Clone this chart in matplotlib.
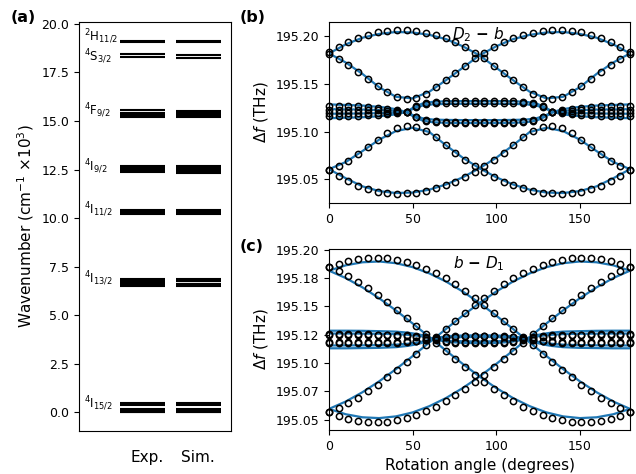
import matplotlib
matplotlib.use('Agg')
import matplotlib.pyplot as plt
from matplotlib.ticker import FormatStrFormatter, MultipleLocator

# ---------------- panel (a): crystal-field levels (x10^3 cm^-1)
exp_levels = [0.0, 0.04, 0.08, 0.10, 0.13, 0.16, 0.40, 0.47,
              6.51, 6.55, 6.60, 6.73, 6.78, 6.83, 6.87,
              10.21, 10.24, 10.27, 10.33, 10.38, 10.44,
              12.36, 12.42, 12.47, 12.60, 12.70,
              15.19, 15.24, 15.36, 15.42, 15.55,
              18.28, 18.43,
              19.09, 19.12]
sim_levels = [0.0, 0.03, 0.07, 0.10, 0.14, 0.18, 0.38, 0.46,
              6.50, 6.55, 6.59, 6.62, 6.74, 6.80, 6.86,
              10.20, 10.24, 10.28, 10.34, 10.39, 10.44,
              12.35, 12.41, 12.48, 12.58, 12.68,
              15.20, 15.26, 15.33, 15.42, 15.53,
              18.27, 18.42,
              19.09, 19.12]
manifold_names = [r'$^2$H$_{11/2}$', r'$^4$S$_{3/2}$', r'$^4$F$_{9/2}$', r'$^4$I$_{9/2}$',
                  r'$^4$I$_{11/2}$', r'$^4$I$_{13/2}$', r'$^4$I$_{15/2}$']
manifold_label_y = [19.35, 18.3, 15.55, 12.62, 10.42, 6.85, 0.42]
column_names = ['Exp.', 'Sim.']

# ---------------- panels (b), (c): transition frequency vs rotation angle (THz)
line_angles = [0, 10, 20, 30, 40, 50, 60, 70, 80, 90, 100, 110, 120, 130, 140, 150, 160, 170, 180]
exp_angles = [0.0, 5.81, 11.61, 17.42, 23.23, 29.03, 34.84, 40.65, 46.45, 52.26, 58.06, 63.87,
              69.68, 75.48, 81.29, 87.1, 92.9, 98.71, 104.52, 110.32, 116.13, 121.94, 127.74,
              133.55, 139.35, 145.16, 150.97, 156.77, 162.58, 168.39, 174.19, 180.0]
band_angles_b = [0, 10, 20, 30, 36, 41, 46, 51, 56, 62, 70, 80, 90, 100, 110, 118, 124, 129,
                 134, 139, 144, 150, 160, 170, 180]
band_angles_c = [0, 10, 20, 30, 40, 47, 52, 57, 62, 67, 72, 80, 90, 100, 108, 113, 118, 123,
                 128, 133, 140, 150, 160, 170, 180]

b_ticks = [195.05, 195.10, 195.15, 195.20]
c_ticks = [195.05, 195.075, 195.10, 195.125, 195.15, 195.175, 195.20]
c_tick_labels = ['195.05', '195.07', '195.10', '195.12', '195.15', '195.18', '195.20']

# (b) D2 - b : simulation
b_sim_outer = [
    [195.182, 195.1915, 195.1985, 195.2025, 195.2045, 195.204, 195.2015, 195.197, 195.1895, 195.180,
     195.167, 195.154, 195.1418, 195.1348, 195.1365, 195.1465, 195.1605, 195.1725, 195.182],
    [195.182, 195.1725, 195.1605, 195.1465, 195.1365, 195.1348, 195.1418, 195.154, 195.167, 195.180,
     195.1895, 195.197, 195.2015, 195.204, 195.2045, 195.2025, 195.1985, 195.1915, 195.182],
    [195.0605, 195.068, 195.0795, 195.0915, 195.1005, 195.104, 195.0995, 195.0855, 195.0725, 195.0615,
     195.052, 195.0445, 195.039, 195.036, 195.0355, 195.0375, 195.0425, 195.051, 195.0605],
    [195.0605, 195.051, 195.0425, 195.0375, 195.0355, 195.036, 195.039, 195.0445, 195.052, 195.0615,
     195.0725, 195.0855, 195.0995, 195.104, 195.1005, 195.0915, 195.0795, 195.068, 195.0605],
]
b_sim_band = [
    [195.1285, 195.1279, 195.1273, 195.1259, 195.1247, 195.1231, 195.1205, 195.1153, 195.1115, 195.1098,
     195.1092, 195.109, 195.109, 195.109, 195.1092, 195.1098, 195.1115, 195.1153, 195.1205, 195.1231,
     195.1247, 195.1259, 195.1273, 195.1279, 195.1285],
    [195.1235, 195.1233, 195.1231, 195.1225, 195.1221, 195.1215, 195.1205, 195.1167, 195.1139, 195.1126,
     195.1122, 195.112, 195.112, 195.112, 195.1122, 195.1126, 195.1139, 195.1167, 195.1205, 195.1215,
     195.1221, 195.1225, 195.1231, 195.1233, 195.1235],
    [195.1187, 195.1188, 195.119, 195.1193, 195.1195, 195.1199, 195.1205, 195.1244, 195.1273, 195.1286,
     195.129, 195.1292, 195.1292, 195.1292, 195.129, 195.1286, 195.1273, 195.1244, 195.1205, 195.1199,
     195.1195, 195.1193, 195.119, 195.1188, 195.1187],
    [195.114, 195.1145, 195.115, 195.1161, 195.1171, 195.1184, 195.1205, 195.1257, 195.1295, 195.1312,
     195.1318, 195.132, 195.132, 195.132, 195.1318, 195.1312, 195.1295, 195.1257, 195.1205, 195.1184,
     195.1171, 195.1161, 195.115, 195.1145, 195.114],
]
# (b) D2 - b : experiment
b_exp = [
    [195.1835, 195.189, 195.194, 195.198, 195.2015, 195.204, 195.2057, 195.2063, 195.2063, 195.2053,
     195.2035, 195.2013, 195.198, 195.1935, 195.1888, 195.1825, 195.177, 195.169, 195.161, 195.1537,
     195.1465, 195.1398, 195.1352, 195.1345, 195.1362, 195.141, 195.148, 195.1555, 195.163, 195.1698,
     195.1765, 195.1815],
    [195.1815, 195.1765, 195.1698, 195.163, 195.1555, 195.148, 195.141, 195.1362, 195.1345, 195.1352,
     195.1398, 195.1465, 195.1537, 195.161, 195.169, 195.177, 195.1825, 195.1888, 195.1935, 195.198,
     195.2013, 195.2035, 195.2053, 195.2063, 195.2063, 195.2057, 195.204, 195.2015, 195.198, 195.194,
     195.189, 195.1835],
    [195.060, 195.064, 195.0695, 195.0765, 195.084, 195.091, 195.098, 195.1035, 195.1055, 195.1045,
     195.1005, 195.094, 195.0855, 195.078, 195.0705, 195.0635, 195.0575, 195.052, 195.0475, 195.044,
     195.0405, 195.038, 195.036, 195.035, 195.0345, 195.035, 195.0365, 195.0395, 195.043, 195.048,
     195.0535, 195.0595],
    [195.0595, 195.0535, 195.048, 195.043, 195.0395, 195.0365, 195.035, 195.0345, 195.035, 195.036,
     195.038, 195.0405, 195.044, 195.0475, 195.052, 195.0575, 195.0635, 195.0705, 195.078, 195.0855,
     195.094, 195.1005, 195.1045, 195.1055, 195.1035, 195.098, 195.091, 195.084, 195.0765, 195.0695,
     195.064, 195.060],
    [195.127, 195.127, 195.1268, 195.1265, 195.126, 195.1252, 195.1242, 195.1228, 195.1205, 195.1148,
     195.1108, 195.1096, 195.1092, 195.109, 195.109, 195.109, 195.109, 195.109, 195.109, 195.1092,
     195.1096, 195.1108, 195.1148, 195.1205, 195.1228, 195.1242, 195.1252, 195.126, 195.1265, 195.1268,
     195.127, 195.127],
    [195.1229, 195.1229, 195.1228, 195.1226, 195.1225, 195.1222, 195.1219, 195.1214, 195.1205, 195.1157,
     195.1123, 195.1108, 195.1104, 195.1102, 195.1102, 195.1102, 195.1102, 195.1102, 195.1102, 195.1104,
     195.1108, 195.1123, 195.1157, 195.1205, 195.1214, 195.1219, 195.1222, 195.1225, 195.1226, 195.1228,
     195.1229, 195.1229],
    [195.1194, 195.1194, 195.1195, 195.1196, 195.1197, 195.1198, 195.12, 195.1202, 195.1207, 195.1255,
     195.1288, 195.1299, 195.1302, 195.1303, 195.1303, 195.1303, 195.1303, 195.1303, 195.1303, 195.1302,
     195.1299, 195.1288, 195.1255, 195.1207, 195.1202, 195.12, 195.1198, 195.1197, 195.1196, 195.1195,
     195.1194, 195.1194],
    [195.1159, 195.116, 195.1162, 195.1165, 195.1169, 195.1175, 195.1183, 195.1193, 195.1205, 195.1266,
     195.1303, 195.1313, 195.1316, 195.1316, 195.1316, 195.1316, 195.1316, 195.1316, 195.1316, 195.1316,
     195.1313, 195.1303, 195.1266, 195.1205, 195.1193, 195.1183, 195.1175, 195.1169, 195.1165, 195.1162,
     195.116, 195.1159],
]

# (c) b - D1 : simulation
c_sim_outer = [
    [195.1814, 195.1861, 195.1888, 195.1895, 195.1880, 195.1845, 195.1790, 195.1718, 195.1630, 195.1529,
     195.1418, 195.1301, 195.1181, 195.1062, 195.0947, 195.0839, 195.0743, 195.0661, 195.0596],
    [195.1814, 195.1749, 195.1667, 195.1571, 195.1464, 195.1349, 195.1229, 195.1109, 195.0992, 195.0881,
     195.0780, 195.0692, 195.0620, 195.0565, 195.0530, 195.0515, 195.0522, 195.0549, 195.0596],
    [195.0596, 195.0661, 195.0743, 195.0839, 195.0946, 195.1061, 195.1181, 195.1301, 195.1418, 195.1529,
     195.1630, 195.1718, 195.1790, 195.1845, 195.1880, 195.1895, 195.1888, 195.1861, 195.1814],
    [195.0596, 195.0549, 195.0522, 195.0515, 195.0530, 195.0565, 195.0620, 195.0692, 195.0780, 195.0881,
     195.0992, 195.1109, 195.1229, 195.1349, 195.1464, 195.1571, 195.1667, 195.1749, 195.1814],
]
c_sim_band = [
    [195.1285, 195.1285, 195.1284, 195.1281, 195.1277, 195.1268, 195.1257, 195.1242, 195.1215, 195.1197,
     195.1185, 195.1178, 195.1175, 195.1178, 195.1185, 195.1197, 195.1215, 195.1242, 195.1257, 195.1268,
     195.1277, 195.1281, 195.1284, 195.1285, 195.1285],
    [195.126, 195.126, 195.1259, 195.1258, 195.1255, 195.1249, 195.1242, 195.1232, 195.1215, 195.1204,
     195.1196, 195.1192, 195.119, 195.1192, 195.1196, 195.1204, 195.1215, 195.1232, 195.1242, 195.1249,
     195.1255, 195.1258, 195.1259, 195.126, 195.126],
    [195.1155, 195.1155, 195.1156, 195.1158, 195.1162, 195.117, 195.1179, 195.1192, 195.1215, 195.1222,
     195.1226, 195.1229, 195.123, 195.1229, 195.1226, 195.1222, 195.1215, 195.1192, 195.1179, 195.117,
     195.1162, 195.1158, 195.1156, 195.1155, 195.1155],
    [195.113, 195.113, 195.1132, 195.1134, 195.114, 195.1151, 195.1164, 195.1183, 195.1215, 195.1229,
     195.1238, 195.1243, 195.1245, 195.1243, 195.1238, 195.1229, 195.1215, 195.1183, 195.1164, 195.1151,
     195.114, 195.1134, 195.1132, 195.113, 195.113],
]
# (c) b - D1 : experiment
c_exp = [
    [195.1845, 195.1876, 195.1901, 195.1918, 195.1927, 195.1930, 195.1925, 195.1912, 195.1893, 195.1866,
     195.1832, 195.1793, 195.1746, 195.1695, 195.1638, 195.1577, 195.1513, 195.1444, 195.1374, 195.1302,
     195.1229, 195.1155, 195.1082, 195.1011, 195.0941, 195.0874, 195.0810, 195.0751, 195.0696, 195.0646,
     195.0603, 195.0565],
    [195.1845, 195.1807, 195.1764, 195.1714, 195.1659, 195.1600, 195.1536, 195.1469, 195.1399, 195.1328,
     195.1255, 195.1181, 195.1108, 195.1036, 195.0966, 195.0897, 195.0833, 195.0772, 195.0715, 195.0664,
     195.0617, 195.0578, 195.0544, 195.0517, 195.0498, 195.0485, 195.0480, 195.0483, 195.0492, 195.0509,
     195.0534, 195.0565],
    [195.0565, 195.0603, 195.0646, 195.0696, 195.0751, 195.0810, 195.0874, 195.0941, 195.1011, 195.1082,
     195.1155, 195.1229, 195.1302, 195.1374, 195.1444, 195.1513, 195.1577, 195.1638, 195.1695, 195.1746,
     195.1793, 195.1832, 195.1866, 195.1893, 195.1912, 195.1925, 195.1930, 195.1927, 195.1918, 195.1901,
     195.1876, 195.1845],
    [195.0565, 195.0534, 195.0509, 195.0492, 195.0483, 195.0480, 195.0485, 195.0498, 195.0517, 195.0544,
     195.0578, 195.0617, 195.0664, 195.0715, 195.0772, 195.0833, 195.0897, 195.0966, 195.1036, 195.1108,
     195.1181, 195.1255, 195.1328, 195.1399, 195.1469, 195.1536, 195.1600, 195.1659, 195.1714, 195.1764,
     195.1807, 195.1845],
    [195.1252, 195.1252, 195.1252, 195.1252, 195.1252, 195.1251, 195.1249, 195.1248, 195.1243, 195.1237,
     195.1226, 195.1207, 195.1189, 195.1181, 195.1177, 195.1175, 195.1175, 195.1177, 195.1181, 195.1189,
     195.1207, 195.1226, 195.1237, 195.1243, 195.1248, 195.1249, 195.1251, 195.1252, 195.1252, 195.1252,
     195.1252, 195.1252],
    [195.1245, 195.1245, 195.1245, 195.1245, 195.1245, 195.1244, 195.1243, 195.1241, 195.1238, 195.1233,
     195.1224, 195.1208, 195.1194, 195.1187, 195.1184, 195.1182, 195.1182, 195.1184, 195.1187, 195.1194,
     195.1208, 195.1224, 195.1233, 195.1238, 195.1241, 195.1243, 195.1244, 195.1245, 195.1245, 195.1245,
     195.1245, 195.1245],
    [195.1182, 195.1182, 195.1182, 195.1182, 195.1182, 195.1183, 195.1184, 195.1186, 195.119, 195.1196,
     195.1205, 195.1219, 195.1228, 195.1232, 195.1234, 195.1235, 195.1235, 195.1234, 195.1232, 195.1228,
     195.1219, 195.1205, 195.1196, 195.119, 195.1186, 195.1184, 195.1183, 195.1182, 195.1182, 195.1182,
     195.1182, 195.1182],
    [195.1175, 195.1175, 195.1175, 195.1175, 195.1175, 195.1177, 195.1178, 195.118, 195.1185, 195.1191,
     195.1203, 195.122, 195.1233, 195.1238, 195.1241, 195.1242, 195.1242, 195.1241, 195.1238, 195.1233,
     195.122, 195.1203, 195.1191, 195.1185, 195.118, 195.1178, 195.1177, 195.1175, 195.1175, 195.1175,
     195.1175, 195.1175],
]

sim_color = '#1f77b4'

fig = plt.figure(figsize=(6.36, 4.74), dpi=100)

# ---- (a)
ax_a = fig.add_axes([0.1242, 0.0907, 0.239, 0.8629])
ax_a.hlines(exp_levels, 0.27, 0.566, colors='k', lw=1.5)
ax_a.hlines(sim_levels, 0.638, 0.934, colors='k', lw=1.5)
for name, y in zip(manifold_names, manifold_label_y):
    ax_a.text(0.035, y, name, ha='left', va='center', fontsize=8.5)
ax_a.set_xlim(0, 1)
ax_a.set_ylim(-0.96, 20.1)
ax_a.set_xticks([0.447, 0.785])
ax_a.set_xticklabels(column_names, fontsize=11)
ax_a.tick_params(axis='x', length=0, pad=14)
ax_a.yaxis.set_major_locator(MultipleLocator(2.5))
ax_a.yaxis.set_major_formatter(FormatStrFormatter('%.1f'))
ax_a.tick_params(axis='y', labelsize=9)
ax_a.set_ylabel('Wavenumber (cm$^{-1}$ ×10$^3$)', fontsize=11)

# ---- (b)
ax_b = fig.add_axes([0.5173, 0.5717, 0.4733, 0.3819])
for ys in b_sim_outer:
    ax_b.plot(line_angles, ys, color=sim_color, lw=1.6, zorder=1)
for ys in b_sim_band:
    ax_b.plot(band_angles_b, ys, color=sim_color, lw=1.6, zorder=1)
for ys in b_exp:
    ax_b.plot(exp_angles, ys, ls='none', marker='o', ms=4.5, mfc='none', mec='k', mew=1.1,
              zorder=2, clip_on=False)
ax_b.text(89.5, 195.2015, r'$D_2$ $\mathbf{-}$ $b$', ha='center', va='center', fontsize=11)
ax_b.set_xlim(0, 180)
ax_b.set_ylim(195.025, 195.215)
ax_b.set_yticks(b_ticks)
ax_b.yaxis.set_major_formatter(FormatStrFormatter('%.2f'))
ax_b.set_xticks([0, 50, 100, 150])
ax_b.tick_params(labelsize=9)
ax_b.set_ylabel(r'$\Delta f$ (THz)', fontsize=11)

# ---- (c)
ax_c = fig.add_axes([0.5173, 0.0928, 0.4733, 0.3819])
for ys in c_sim_outer:
    ax_c.plot(line_angles, ys, color=sim_color, lw=1.6, zorder=1)
for ys in c_sim_band:
    ax_c.plot(band_angles_c, ys, color=sim_color, lw=1.6, zorder=1)
for ys in c_exp:
    ax_c.plot(exp_angles, ys, ls='none', marker='o', ms=4.5, mfc='none', mec='k', mew=1.1,
              zorder=2, clip_on=False)
ax_c.text(89.5, 195.1878, r'$b$ $\mathbf{-}$ $D_1$', ha='center', va='center', fontsize=11)
ax_c.set_xlim(0, 180)
ax_c.set_ylim(195.041, 195.2005)
ax_c.set_yticks(c_ticks)
ax_c.set_yticklabels(c_tick_labels)
ax_c.set_xticks([0, 50, 100, 150])
ax_c.tick_params(labelsize=9)
ax_c.set_ylabel(r'$\Delta f$ (THz)', fontsize=11)
ax_c.set_xlabel('Rotation angle (degrees)', fontsize=11)

fig.text(0.016, 0.963, '(a)', fontsize=11.5, fontweight='bold', va='center')
fig.text(0.377, 0.963, '(b)', fontsize=11.5, fontweight='bold', va='center')
fig.text(0.377, 0.481, '(c)', fontsize=11.5, fontweight='bold', va='center')

fig.savefig('out.png', dpi=100)
